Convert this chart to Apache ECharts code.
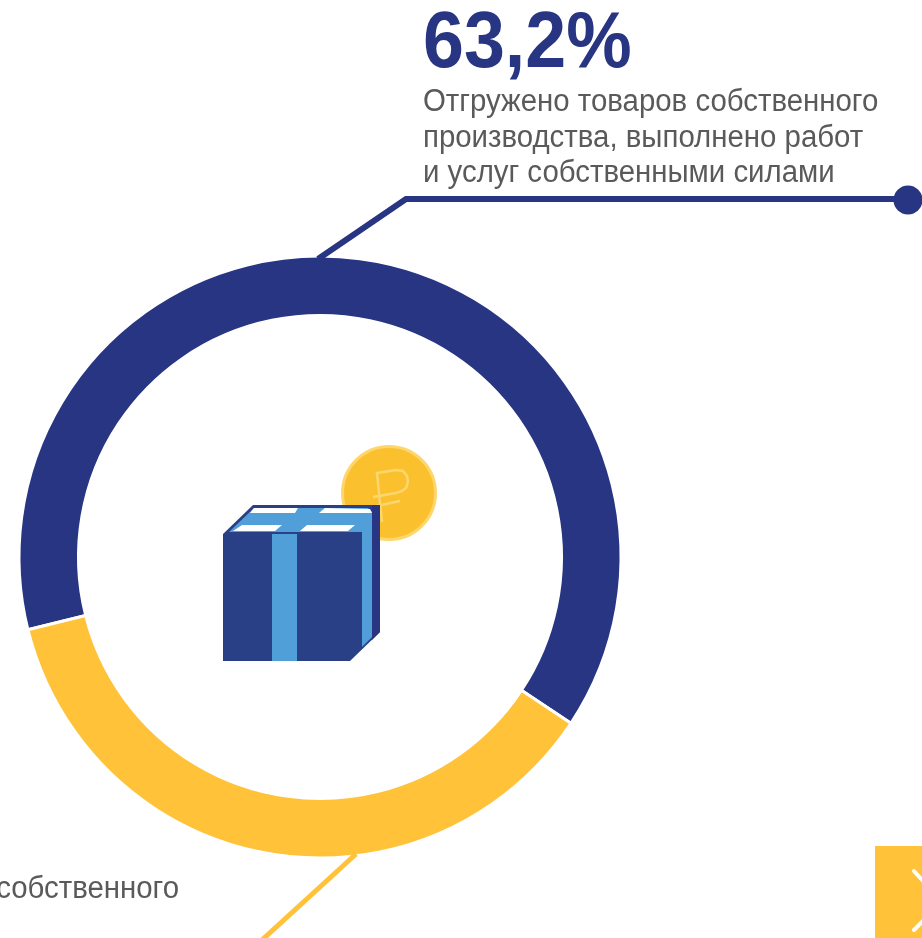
<!DOCTYPE html>
<html><head><meta charset="utf-8">
<style>html,body{margin:0;padding:0;background:#fff}#c{width:922px;height:938px}</style>
<script src="https://cdn.jsdelivr.net/npm/echarts@6/dist/echarts.min.js"></script>
</head><body><div id="c"></div>
<script>
const categories=['Отгружено товаров собственного производства, выполнено работ и услуг собственными силами','Прочее'];
const values=[63.2,36.8];
const colors=['#283583','#FFC239'];
const headline='63,2%';
const captionLines=['Отгружено товаров собственного','производства, выполнено работ','и услуг собственными силами'];
const clippedCaption='собственного';
const font='"Liberation Sans", Arial, sans-serif';
const txt=(x,y,text,size,color,weight,sx,align)=>({type:'text',x,y,scaleX:sx||1,z:20,silent:true,style:{text,font:(weight||'normal')+' '+size+'px '+font,fill:color,align:align||'left',verticalAlign:'top'}});
const line=(points,stroke,w,cap)=>({type:'polyline',z:10,shape:{points},silent:true,style:{stroke,lineWidth:w,fill:null,lineJoin:'miter',lineCap:cap||'butt'}});
const poly=(points,fill)=>({type:'polygon',z:12,shape:{points},silent:true,style:{fill}});
const chart=echarts.init(document.getElementById('c'),null,{renderer:'canvas'});
chart.setOption({
 animation:false,
 series:[{type:'pie',center:[320,557],radius:[241.5,301],startAngle:194,clockwise:true,silent:true,
  label:{show:false},labelLine:{show:false},
  itemStyle:{borderColor:'#fff',borderWidth:3},
  data:categories.map((name,i)=>({name,value:values[i],itemStyle:{color:colors[i]}}))}],
 graphic:[
  txt(423,5,headline,80,colors[0],'bold',0.92),
  txt(423,87,captionLines[0],31,'#5a5a5a','normal',0.948),
  txt(423,123,captionLines[1],31,'#5a5a5a','normal',0.948),
  txt(423,158,captionLines[2],31,'#5a5a5a','normal',0.948),
  txt(179,874,clippedCaption,31,'#5a5a5a','normal',0.948,'right'),
  line([[318,259],[406,199],[908,199]],colors[0],6),
  {type:'circle',z:10,shape:{cx:908,cy:200,r:14.5},silent:true,style:{fill:colors[0]}},
  line([[356,854],[262,940]],colors[1],5),
  {type:'rect',z:10,shape:{x:875,y:846,width:47,height:92},silent:true,style:{fill:colors[1]}},
  line([[914,871],[923,881]],'#fff',4,'round'),
  line([[923,921],[914,930]],'#fff',4,'round'),
  // coin
  {type:'circle',z:11,shape:{cx:389,cy:493,r:46.5},silent:true,style:{fill:'#FBC02D',stroke:'#FDD76E',lineWidth:3}},
  {...line([[382,522],[377,473],[396,470],[403,471],[407,476],[408,482],[406,488],[402,491],[396,493],[373,497]],'#FDD76E',2.5),z:11},
  {...line([[372,507],[400,501]],'#FDD76E',2.5),z:11},
  // box
  poly([[223,534],[253,505],[380,505],[380,632],[350,661],[223,661]],'#2A4086'),
  poly([[372,505],[380,505],[380,632],[372,640]],'#283583'),
  poly([[229,532],[254,508],[368,508],[372,512],[362,532]],'#519FD9'),
  poly([[272,534],[297,534],[297,661],[272,661]],'#519FD9'),
  poly([[362,525],[372,512],[372,637],[362,647]],'#519FD9'),
  poly([[233,531],[242,525],[282,525],[275,531]],'#fff'),
  poly([[250,513],[254,508],[298,508],[295,513]],'#fff'),
  poly([[300,531],[307,525],[355,525],[348,531]],'#fff'),
  poly([[319,513],[325,508],[370,509],[372,513]],'#fff')
 ]
});
</script></body></html>
